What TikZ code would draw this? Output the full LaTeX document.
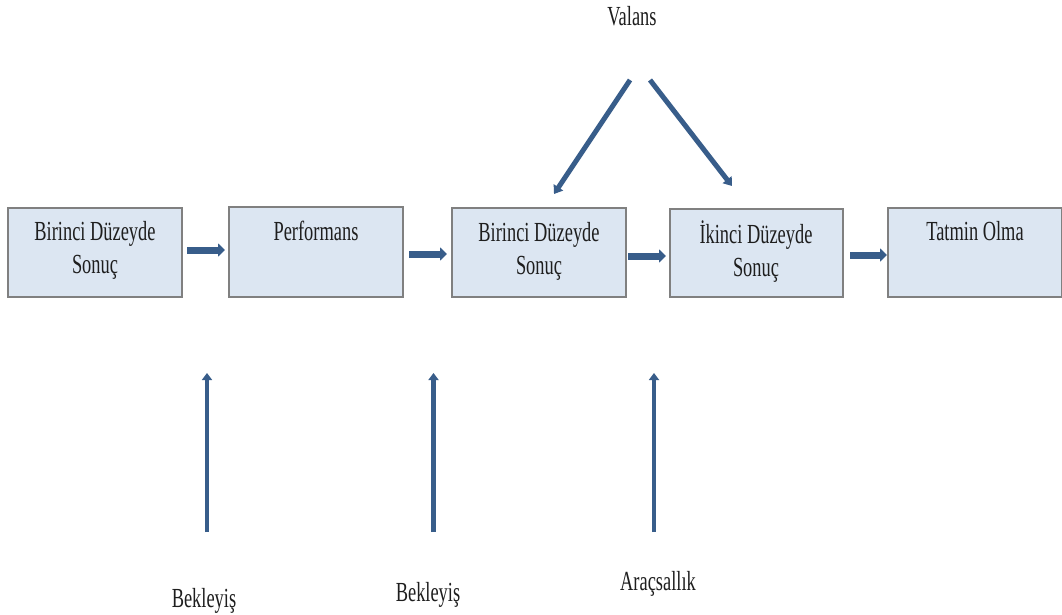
\documentclass[tikz,border=0pt]{standalone}
\usepackage{fontspec}
\setmainfont{Liberation Serif}
\usepackage{graphicx}
\usetikzlibrary{arrows.meta}
\definecolor{boxfill}{RGB}{220,230,242}
\definecolor{boxline}{RGB}{128,128,128}
\definecolor{arrowblue}{RGB}{56,93,138}
\definecolor{txt}{RGB}{30,30,30}
\newcommand{\stx}[1]{\scalebox{1}[1.5]{\begin{tabular}[t]{@{}c@{}}#1\end{tabular}}}
\tikzset{
  boxnode/.style={draw=boxline, line width=1.2pt, fill=boxfill, minimum width=174pt, minimum height=89pt, inner sep=0pt},
  lbl/.style={anchor=base, inner sep=0pt, text=txt, font=\fontsize{18.4}{22}\selectfont},
  flow/.style={draw=arrowblue, line width=7pt, -{Triangle[length=7pt,width=13pt]}},
  diag/.style={draw=arrowblue, line width=5pt, -{Triangle[length=8pt,width=11pt]}},
  upar/.style={draw=arrowblue, line width=4.5pt, -{Triangle[length=7pt,width=10pt]}}
}
\begin{document}
\begin{tikzpicture}[x=1pt,y=-1pt]
\useasboundingbox[fill=white] (0,0) rectangle (1062,615);
% boxes
\node[boxnode] (b1) at (95,252.5) {};
\node[boxnode, minimum height=90pt] (b2) at (316,252) {};
\node[boxnode] (b3) at (539,252.5) {};
\node[boxnode, minimum width=173pt, minimum height=88pt] (b4) at (756.5,253) {};
\node[boxnode] (b5) at (975,252.5) {};
% box texts
\node[lbl] (t1) at (95,240) {\stx{Birinci Düzeyde\\Sonuç}};
\node[lbl] (t2) at (316,240) {\stx{Performans}};
\node[lbl] (t3) at (539,241) {\stx{Birinci Düzeyde\\Sonuç}};
\node[lbl] (t4) at (756,243) {\stx{İkinci Düzeyde\\Sonuç}};
\node[lbl] (t5) at (975,240) {\stx{Tatmin Olma}};
% horizontal arrows
\coordinate (h1s) at (187,250); \coordinate (h1e) at (225,250);
\coordinate (h2s) at (409,254); \coordinate (h2e) at (447,254);
\coordinate (h3s) at (628,256); \coordinate (h3e) at (666,256);
\coordinate (h4s) at (850,255); \coordinate (h4e) at (887,255);
\draw[flow] (h1s) -- (h1e);
\draw[flow] (h2s) -- (h2e);
\draw[flow] (h3s) -- (h3e);
\draw[flow] (h4s) -- (h4e);
% valans
\node[lbl] (val) at (632,26) {\stx{Valans}};
\coordinate (vl) at (630,80); \coordinate (vle) at (554,194);
\coordinate (vr) at (650,80); \coordinate (vre) at (732,186);
\draw[diag] (vl) -- (vle);
\draw[diag] (vr) -- (vre);
% bottom arrows and labels
\node[lbl] (bk1) at (204,607) {\stx{Bekleyiş}};
\node[lbl] (bk2) at (428,601) {\stx{Bekleyiş}};
\node[lbl] (arc) at (658,590) {\stx{Araçsallık}};
\coordinate (u1s) at (207,532); \coordinate (u1e) at (207,373);
\coordinate (u2s) at (433.5,532); \coordinate (u2e) at (433.5,373);
\coordinate (u3s) at (654,532); \coordinate (u3e) at (654,373);
\draw[upar] (u1s) -- (u1e);
\draw[upar] (u2s) -- (u2e);
\draw[upar] (u3s) -- (u3e);
\end{tikzpicture}
\end{document}
